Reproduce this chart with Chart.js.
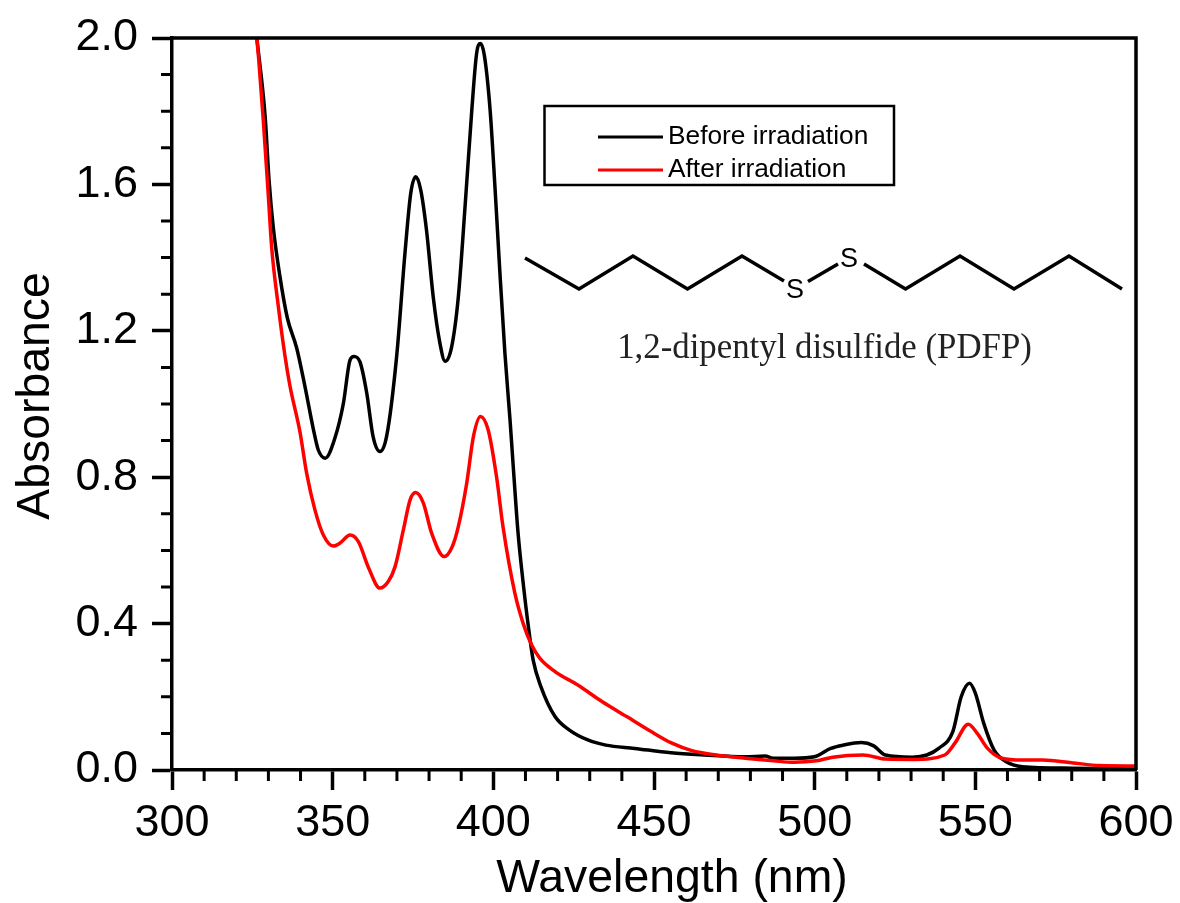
<!DOCTYPE html>
<html>
<head>
<meta charset="utf-8">
<title>Absorbance of PDFP</title>
<script src="https://cdn.jsdelivr.net/npm/chart.js@4"></script>
<style>
    html, body { margin: 0; padding: 0; background: #fff; }
    canvas { display: block; }
</style>
</head>
<body>
<canvas id="absorbanceChart" width="1180" height="903"></canvas>
<script>
const beforeWavelength = [326.4, 329, 330.2, 331.5, 333.6, 335.9, 338.8, 341.4, 343.9, 345.5, 347.7, 350.7, 353.3, 355.4, 356.6, 358.5, 360.6, 362.6, 364.7, 366.8, 369.9, 372.5, 374.3, 375.9, 377.4, 379.2, 381.3, 383.4, 385, 387, 389.1, 391.2, 393.3, 394.8, 396, 397.2, 399, 400.5, 402, 403.6, 405.2, 406.2, 407.7, 409.3, 410.9, 412.4, 414.8, 419.2, 423.7, 429.4, 435, 444, 455.3, 465.6, 478.4, 484.6, 487, 493.6, 499.9, 505, 508.9, 514.5, 518.4, 522, 530.4, 534.9, 538.6, 543, 545.6, 548.2, 550, 552.6, 555.8, 559.5, 564.6, 580, 600];
const beforeAbsorbance = [2.0, 1.784, 1.612, 1.484, 1.348, 1.235, 1.153, 1.047, 0.935, 0.875, 0.852, 0.907, 1.0, 1.12, 1.13, 1.115, 1.03, 0.91, 0.87, 0.912, 1.129, 1.412, 1.576, 1.621, 1.585, 1.475, 1.292, 1.165, 1.117, 1.155, 1.292, 1.539, 1.803, 1.958, 1.985, 1.953, 1.803, 1.594, 1.366, 1.139, 0.956, 0.829, 0.647, 0.51, 0.392, 0.30, 0.228, 0.146, 0.109, 0.082, 0.068, 0.059, 0.047, 0.041, 0.036, 0.038, 0.032, 0.032, 0.036, 0.059, 0.068, 0.075, 0.066, 0.041, 0.035, 0.041, 0.059, 0.105, 0.20, 0.237, 0.21, 0.128, 0.055, 0.023, 0.009, 0.005, 0.003];
const afterWavelength = [326.4, 327, 328.4, 330, 331, 333.1, 335.2, 336.7, 339.8, 341.9, 344.5, 347.1, 350.2, 352.3, 355.4, 358, 361.2, 364.7, 367.3, 369.4, 372, 374.1, 375.8, 378.2, 380.8, 384.7, 387.2, 389.1, 391.7, 393.8, 396, 398.4, 401, 403, 406.7, 409.3, 411.9, 414.5, 419.2, 426.3, 433.8, 441.5, 449.1, 455.4, 461.8, 469.4, 478.4, 487.2, 493.6, 500.5, 505.6, 515.1, 522, 530.9, 540.5, 543.7, 547.8, 550.6, 553.8, 558.2, 564.6, 571, 579.9, 588.8, 600];
const afterAbsorbance = [2.0, 1.94, 1.776, 1.566, 1.43, 1.266, 1.129, 1.05, 0.925, 0.811, 0.71, 0.642, 0.612, 0.62, 0.642, 0.624, 0.552, 0.497, 0.515, 0.555, 0.656, 0.738, 0.758, 0.73, 0.647, 0.583, 0.61, 0.665, 0.783, 0.911, 0.966, 0.929, 0.801, 0.665, 0.483, 0.40, 0.342, 0.305, 0.269, 0.232, 0.187, 0.146, 0.105, 0.074, 0.053, 0.041, 0.032, 0.025, 0.021, 0.025, 0.035, 0.041, 0.03, 0.029, 0.041, 0.074, 0.125, 0.10, 0.059, 0.032, 0.027, 0.027, 0.02, 0.012, 0.011];

const xTicks = [300, 350, 400, 450, 500, 550, 600];
const xMinorTicks = [310, 320, 330, 340, 360, 370, 380, 390, 410, 420, 430, 440, 460, 470, 480, 490, 510, 520, 530, 540, 560, 570, 580, 590];
const yTicks = [0, 0.4, 0.8, 1.2, 1.6, 2.0];
const yMinorTicks = [0.1, 0.2, 0.3, 0.5, 0.6, 0.7, 0.9, 1.0, 1.1, 1.3, 1.4, 1.5, 1.7, 1.8, 1.9];

// skeleton of the molecule, page pixels
const chainLeft = [[525, 258], [579, 289], [633, 256], [687.5, 289], [742, 256], [784, 281]];
const bondSS = [[808, 281.5], [838, 264]];
const chainRight = [[864, 264], [905.5, 289], [960, 256], [1014, 289], [1069, 256], [1122, 289]];

function toPoints(xs, ys) {
    return xs.map((x, i) => ({ x: x, y: ys[i] }));
}

// chart.js has one tick length per axis, so the short ticks go here
const minorTicksPlugin = {
    id: "minorTicks",
    afterDatasetsDraw(chart) {
        let ctx = chart.ctx;
        let area = chart.chartArea;
        ctx.save();
        ctx.strokeStyle = "#000";
        ctx.lineWidth = 3;
        ctx.beginPath();
        xMinorTicks.forEach(v => {
            let px = chart.scales.x.getPixelForValue(v);
            ctx.moveTo(px, area.bottom);
            ctx.lineTo(px, area.bottom + 11);
        });
        yMinorTicks.forEach(v => {
            let py = chart.scales.y.getPixelForValue(v);
            ctx.moveTo(area.left - 11, py);
            ctx.lineTo(area.left, py);
        });
        ctx.stroke();
        // top and right frame
        ctx.lineWidth = 3.5;
        ctx.beginPath();
        ctx.moveTo(area.left, area.top);
        ctx.lineTo(area.right, area.top);
        ctx.lineTo(area.right, area.bottom);
        ctx.stroke();
        ctx.restore();
    }
};

const annotationPlugin = {
    id: "annotation",
    afterDraw(chart) {
        let ctx = chart.ctx;
        ctx.save();

        // legend box
        ctx.strokeStyle = "#000";
        ctx.lineWidth = 2.5;
        ctx.strokeRect(544.5, 106, 349.5, 79);
        ctx.font = "26.3px 'Liberation Sans'";
        ctx.textBaseline = "middle";
        ctx.textAlign = "left";
        ctx.fillStyle = "#000";
        chart.data.datasets.forEach((ds, i) => {
            let y = i === 0 ? 137 : 170;
            ctx.strokeStyle = ds.borderColor;
            ctx.lineWidth = 3;
            ctx.beginPath();
            ctx.moveTo(598, y);
            ctx.lineTo(663, y);
            ctx.stroke();
            ctx.fillText(ds.label, 668, y);
        });

        // molecule
        ctx.strokeStyle = "#000";
        ctx.lineWidth = 3.5;
        ctx.lineJoin = "miter";
        [chainLeft, bondSS, chainRight].forEach(line => {
            ctx.beginPath();
            line.forEach((p, i) => i === 0 ? ctx.moveTo(p[0], p[1]) : ctx.lineTo(p[0], p[1]));
            ctx.stroke();
        });
        ctx.font = "27px 'Liberation Sans'";
        ctx.textAlign = "center";
        ctx.fillText("S", 795, 291);
        ctx.fillText("S", 849, 260);

        ctx.font = "34.8px 'Liberation Serif'";
        ctx.fillStyle = "#222";
        ctx.fillText("1,2-dipentyl disulfide (PDFP)", 824.5, 349);
        ctx.restore();
    }
};

// the axis titles do not sit on the centre of the plot in the original
function shiftTitle(scale, dx, dy) {
    if (scale.drawTitle.shifted) return;
    let draw = scale.drawTitle;
    scale.drawTitle = function () {
        let ctx = scale.ctx;
        ctx.save();
        ctx.translate(dx, dy);
        draw.call(scale);
        ctx.restore();
    };
    scale.drawTitle.shifted = true;
}

// keep the plot area where the padding puts it, labels may overhang
function clearOverhang(scale) {
    scale.paddingLeft = 0;
    scale.paddingRight = 0;
    scale.paddingTop = 0;
    scale.paddingBottom = 0;
}

const tickFont = { family: "'Liberation Sans'", size: 45 };
const titleFont = { family: "'Liberation Sans'", size: 46.4, lineHeight: 1 };

new Chart(document.getElementById("absorbanceChart").getContext("2d"), {
    type: "line",
    data: {
        datasets: [{
            label: "Before irradiation",
            data: toPoints(beforeWavelength, beforeAbsorbance),
            borderColor: "#000000",
            order: 2
        }, {
            label: "After irradiation",
            data: toPoints(afterWavelength, afterAbsorbance),
            borderColor: "#ff0000",
            order: 1
        }]
    },
    options: {
        responsive: false,
        animation: false,
        parsing: false,
        layout: { padding: { top: 38, right: 44, left: 0, bottom: 0 } },
        elements: {
            point: { radius: 0 },
            line: { borderWidth: 3.5, cubicInterpolationMode: "monotone" }
        },
        plugins: {
            legend: { display: false },
            tooltip: { enabled: false }
        },
        scales: {
            x: {
                type: "linear",
                min: 300,
                max: 600,
                afterBuildTicks: scale => { scale.ticks = xTicks.map(v => ({ value: v })); },
                afterFit: scale => { scale.height = 133; clearOverhang(scale); shiftTitle(scale, 18, 0); },
                border: { color: "#000", width: 3.5 },
                grid: { drawOnChartArea: false, tickLength: 20, tickWidth: 3.5, tickColor: "#000" },
                ticks: { font: tickFont, color: "#000", padding: 7, autoSkip: false, maxRotation: 0, callback: v => String(v) },
                title: { display: true, text: "Wavelength (nm)", font: titleFont, color: "#000", padding: { top: 0, bottom: 1 } }
            },
            y: {
                min: 0,
                max: 2,
                afterBuildTicks: scale => { scale.ticks = yTicks.map(v => ({ value: v })); },
                afterFit: scale => { scale.width = 172; clearOverhang(scale); shiftTitle(scale, 0, -8); },
                border: { color: "#000", width: 3.5 },
                grid: { drawOnChartArea: false, tickLength: 20, tickWidth: 3.5, tickColor: "#000" },
                ticks: { font: tickFont, color: "#000", padding: 14, autoSkip: false, callback: v => v.toFixed(1) },
                title: { display: true, text: "Absorbance", font: titleFont, color: "#000", padding: { top: 13, bottom: 0 } }
            }
        }
    },
    plugins: [minorTicksPlugin, annotationPlugin]
});
</script>
</body>
</html>
